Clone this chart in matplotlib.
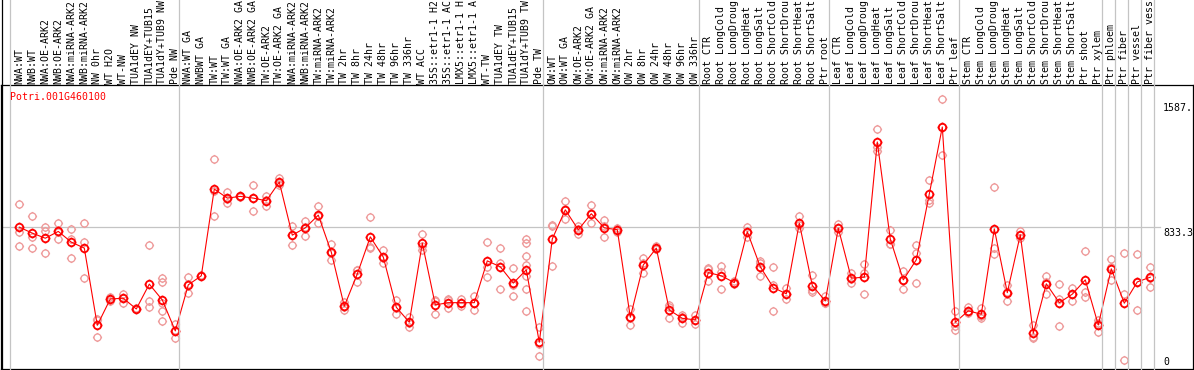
import matplotlib
matplotlib.use("Agg")
import matplotlib.pyplot as plt
import matplotlib.transforms as mtransforms
from matplotlib.path import Path
from matplotlib.lines import Line2D

labels = ["NWA:WT", "NWB:WT", "NWA:OE-ARK2", "NWB:OE-ARK2", "NWA:miRNA-ARK2", "NWB:miRNA-ARK2",
          "NW 0hr", "WT H2O", "WT-NW", "TUA1dEY NW", "TUA1dEY+TUB15", "TUA1dY+TUB9 NW", "Pde NW",
          "NWA:WT GA", "NWBWT GA", "TW:WT", "TW:WT GA", "NWA:OE-ARK2 GA", "NWB:OE-ARK2 GA",
          "TW:OE-ARK2", "TW:OE-ARK2 GA", "NWA:miRNA-ARK2", "NWB:miRNA-ARK2", "TW:miRNA-ARK2",
          "TW:miRNA-ARK2", "TW 2hr", "TW 8hr", "TW 24hr", "TW 48hr", "TW 96hr", "TW 336hr", "WT ACC",
          "35S::etr1-1 H2", "35S::etr1-1 AC", "LMX5::etr1-1 H", "LMX5::etr1-1 A", "WT-TW", "TUA1dEY TW",
          "TUA1dEY+TUB15", "TUA1dY+TUB9 TW", "Pde TW",
          "OW:WT", "OW:WT GA", "OW:OE-ARK2", "OW:OE-ARK2 GA", "OW:miRNA-ARK2", "OW:miRNA-ARK2",
          "OW 2hr", "OW 8hr", "OW 24hr", "OW 48hr", "OW 96hr", "OW 336hr",
          "Root CTR", "Root LongCold", "Root LongDroug", "Root LongHeat", "Root LongSalt",
          "Root ShortCold", "Root ShortDrou", "Root ShortHeat", "Root ShortSalt", "Ptr root",
          "Leaf CTR", "Leaf LongCold", "Leaf LongDroug", "Leaf LongHeat", "Leaf LongSalt",
          "Leaf ShortCold", "Leaf ShortDrou", "Leaf ShortHeat", "Leaf ShortSalt", "Ptr leaf",
          "Stem CTR", "Stem LongCold", "Stem LongDroug", "Stem LongHeat", "Stem LongSalt",
          "Stem ShortCold", "Stem ShortDrou", "Stem ShortHeat", "Stem ShortSalt", "Ptr shoot", "Ptr xylem",
          "Ptr phloem", "Ptr fiber", "Ptr vessel", "Ptr fiber vess"]

# column indices where groups start/end
group_bounds = [0, 13, 41, 53, 63, 73, 84, 85, 86, 87, 88]

means = [834, 799, 769, 809, 746, 711, 257, 412, 416, 353, 499, 406, 224,
         495, 548, 1058, 1005, 1015, 1005, 989, 1099, 787, 830, 905, 687, 369, 559, 777, 658, 363,
         275, 740, 377, 390, 390, 390, 636, 601, 505, 583, 157,
         765, 936, 819, 913, 830, 819, 304, 612, 711, 347, 298, 289,
         567, 548, 508, 807, 601, 479, 442, 858, 491, 400,
         828, 534, 540, 1335, 764, 524, 642, 1029, 1423, 275,
         342, 322, 824, 449, 789, 210, 501, 390, 440, 524, 259,
         589, 387, 512, 540]

reps = [[972, 803, 724], [901, 779, 711], [834, 809, 681], [858, 805, 764], [823, 765, 652],
        [858, 746, 534], [295, 289, 187], [426, 412, 400], [442, 416, 390], [360, 350, 350],
        [730, 400, 363], [538, 510, 387, 342, 283], [263, 228, 181],
        [540, 499, 446], [552, 545, 548], [1235, 1044, 901], [1038, 1001, 976], [1020, 1010, 1015],
        [1082, 1004, 929], [1015, 992, 960], [1121, 1095, 1082], [842, 789, 730], [872, 833, 785],
        [960, 897, 858], [736, 683, 642], [396, 364, 347], [583, 584, 510], [895, 720, 711],
        [697, 655, 622], [406, 359, 324], [308, 272, 245], [795, 724, 701], [406, 401, 324],
        [410, 403, 357], [410, 390, 370], [432, 391, 347], [746, 599, 540], [711, 623, 469],
        [593, 492, 430], [765, 740, 665, 612, 544, 469, 342], [245, 149, 77],
        [848, 838, 607], [989, 938, 881], [842, 824, 791], [966, 915, 858], [877, 838, 775],
        [830, 819, 808], [353, 302, 257], [652, 621, 563], [724, 705, 704], [377, 362, 302],
        [318, 307, 269], [318, 286, 263],
        [591, 590, 520], [607, 568, 469], [520, 500, 505], [834, 808, 779], [638, 621, 544],
        [599, 496, 342], [475, 441, 410], [901, 845, 828], [554, 465, 455], [430, 387, 387],
        [852, 830, 803], [563, 530, 508], [618, 567, 442], [1412, 1306, 1280], [819, 737, 736],
        [577, 526, 469], [730, 681, 508], [1113, 995, 976], [1587, 1422, 1260], [342, 253, 230],
        [363, 335, 328], [357, 311, 298], [1070, 711, 677], [495, 452, 400], [809, 788, 770],
        [259, 190, 181], [549, 512, 442], [499, 410, 253], [475, 443, 402], [693, 455, 422],
        [289, 268, 220],
        [646, 597, 524], [681, 442, 53], [677, 512, 347], [602, 537, 481]]

gene = "Potri.001G460100"
ytick_labels = ["1587.", "833.3", "0"]
mid_value = 833.3

W, H = 1194, 370
fig = plt.figure(figsize=(W / 100, H / 100), dpi=100)
ax = fig.add_axes([1 / W, 1 - 369 / H, 1192 / W, 284 / H])
px0, pxw = 10.0, 13.0
ax.set_xlim((1 - px0) / pxw, (1193 - px0) / pxw)
ax.set_ylim(0, 1670)
ax.set_xticks([])
ax.set_yticks([])
for s in ax.spines.values():
    s.set_color("black")
    s.set_linewidth(0.9)

grey = "#c4c4c4"
blend = mtransforms.blended_transform_factory(ax.transData, fig.transFigure)
for b in group_bounds:
    fig.add_artist(Line2D([b, b], [1 - 369 / H, 1.0], transform=blend, color=grey, lw=0.9, zorder=0.5))
# left black line through label area
fig.add_artist(Line2D([1.5 / W, 1.5 / W], [1 - 369 / H, 1.0], transform=fig.transFigure,
                      color="black", lw=0.9))
ax.plot([(1 - px0) / pxw, (1160 - px0) / pxw], [mid_value, mid_value], color=grey, lw=0.9, zorder=0.5)

# marker: circle with four small ticks
circ = Path.unit_circle()
tk = 1.3
ticks = Path([(0, 1), (0, tk), (0, -1), (0, -tk), (1, 0), (tk, 0), (-1, 0), (-tk, 0)],
             [Path.MOVETO, Path.LINETO] * 4)
mk = Path.make_compound_path(circ, ticks)

xs = [i + 0.715 for i in range(len(labels))]
rx, ry = [], []
for x, r in zip(xs, reps):
    for v in r:
        rx.append(x)
        ry.append(v)
ax.plot(rx, ry, linestyle="none", marker=mk, markersize=6.6, markerfacecolor="none",
        markeredgecolor="#ee9a9a", markeredgewidth=0.95, zorder=2)
ax.plot(xs, means, color="#ff0000", lw=0.8, zorder=3)
ax.plot(xs, means, linestyle="none", marker=mk, markersize=7.0, markerfacecolor="none",
        markeredgecolor="#ff0000", markeredgewidth=1.3, zorder=4)

mono = "DejaVu Sans Mono"
fs = 7.1
for x, lab in zip(xs, labels):
    fig.text(x, 1 - 84 / H, lab, transform=blend, rotation=90, ha="center", va="bottom",
             fontsize=fs, family=mono, color="black")

fig.text(10 / W, 1 - 99.5 / H, gene, ha="left", va="baseline", fontsize=fs, family=mono, color="#ff0000")
for lab, yb in zip(ytick_labels, [111.5, 235.5, 365.0]):
    fig.text(1163 / W, 1 - yb / H, lab, ha="left", va="baseline", fontsize=fs, family=mono, color="black")

fig.savefig("out.png", dpi=100)
